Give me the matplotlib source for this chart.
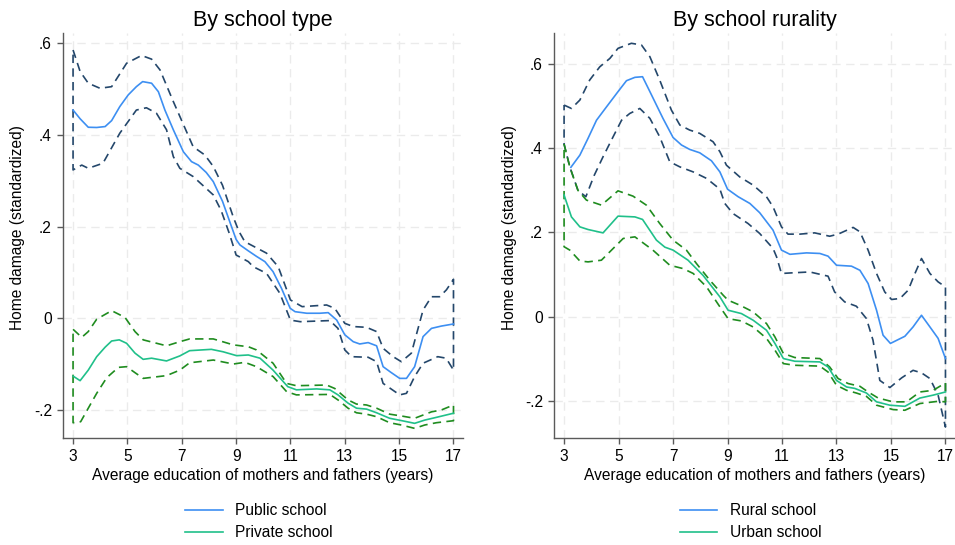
import matplotlib.pyplot as plt

plt.rcParams['font.family'] = ['Liberation Sans', 'DejaVu Sans']

# --- by school type ---------------------------------------------------------
public_x = [3.0, 3.26, 3.56, 3.87, 4.18, 4.42, 4.72, 5.03, 5.33, 5.56, 5.89, 6.14,
            6.38, 6.69, 7.06, 7.36, 7.61, 7.9, 8.16, 8.5, 8.8, 9.0, 9.14, 9.45,
            9.75, 10.06, 10.36, 10.67, 10.99, 11.17, 11.6, 12.08, 12.39, 12.7, 13.0,
            13.31, 13.55, 13.86, 14.17, 14.41, 14.7, 15.02, 15.27, 15.57, 15.88,
            16.19, 16.55, 17.0]
public_y = [0.454, 0.435, 0.4165, 0.416, 0.418, 0.431, 0.4615, 0.487, 0.505, 0.516,
            0.5125, 0.494, 0.454, 0.411, 0.363, 0.3415, 0.334, 0.318, 0.298, 0.255,
            0.205, 0.172, 0.16, 0.147, 0.135, 0.1235, 0.1017, 0.0654, 0.0218, 0.0144,
            0.011, 0.011, 0.0123, -0.0037, -0.036, -0.051, -0.056, -0.053, -0.060,
            -0.1055, -0.118, -0.131, -0.131, -0.1055, -0.04, -0.022, -0.017, -0.0124]
public_hi_x = [3.0, 3.26, 3.56, 3.99, 4.42, 4.97, 5.52, 5.89, 6.2, 6.69, 7.42, 7.85,
               8.16, 8.5, 8.9, 9.1, 9.32, 10.12, 10.55, 11.0, 11.43, 12.33, 12.63,
               13.0, 13.31, 13.8, 14.17, 14.41, 14.78, 15.08, 15.45, 15.88, 16.19,
               16.49, 16.74, 17.0]
public_hi_y = [0.585, 0.538, 0.5125, 0.5015, 0.505, 0.556, 0.573, 0.565, 0.5415,
               0.4725, 0.374, 0.356, 0.331, 0.29, 0.22, 0.19, 0.167, 0.142, 0.1125,
               0.040, 0.0254, 0.029, 0.0218, -0.011, -0.018, -0.0197, -0.029,
               -0.0655, -0.0837, -0.0946, -0.076, 0.018, 0.047, 0.047, 0.062, 0.085]
public_lo_x = [3.0, 3.32, 3.56, 4.1, 4.72, 5.33, 5.7, 6.07, 6.44, 6.69, 6.93, 7.42,
               8.16, 8.45, 8.75, 9.0, 9.45, 9.63, 10.12, 10.61, 11.0, 11.36, 12.45,
               12.75, 13.0, 13.25, 13.86, 14.17, 14.41, 15.02, 15.27, 15.57, 15.88,
               16.42, 16.73, 17.0]
public_lo_y = [0.3235, 0.334, 0.327, 0.338, 0.4035, 0.454, 0.459, 0.447, 0.411,
               0.3525, 0.327, 0.309, 0.269, 0.235, 0.185, 0.138, 0.1235, 0.1125,
               0.098, 0.0545, -0.004, -0.0074, -0.005, -0.022, -0.069, -0.0837,
               -0.085, -0.0946, -0.142, -0.167, -0.1636, -0.127, -0.098, -0.0837,
               -0.087, -0.113]

private_x = [3.0, 3.26, 3.56, 3.87, 4.18, 4.42, 4.7, 4.97, 5.28, 5.58, 5.89, 6.44,
             6.93, 7.29, 8.09, 8.52, 9.02, 9.45, 9.88, 10.36, 10.9, 11.22, 11.96,
             12.45, 12.75, 13.12, 13.43, 13.8, 14.17, 14.65, 15.08, 15.57, 15.94,
             16.37, 17.0]
private_y = [-0.126, -0.136, -0.113, -0.0837, -0.063, -0.0495, -0.047, -0.0545,
             -0.076, -0.0895, -0.087, -0.093, -0.082, -0.0706, -0.0677, -0.073,
             -0.0815, -0.080, -0.087, -0.113, -0.149, -0.156, -0.154, -0.156, -0.167,
             -0.185, -0.196, -0.198, -0.206, -0.218, -0.223, -0.229, -0.222, -0.216,
             -0.207]
private_hi_x = [3.0, 3.32, 3.56, 3.87, 4.42, 4.91, 5.28, 5.58, 6.44, 6.93, 7.29, 8.16,
                8.9, 9.45, 9.75, 10.36, 10.86, 11.22, 12.33, 12.63, 13.12, 13.43, 13.8,
                14.17, 14.65, 15.08, 15.57, 16.19, 16.55, 17.0]
private_hi_y = [-0.024, -0.0415, -0.029, -0.002, 0.0166, 0.002, -0.029, -0.047,
                -0.060, -0.051, -0.045, -0.045, -0.058, -0.062, -0.069, -0.098,
                -0.142, -0.147, -0.1455, -0.153, -0.178, -0.187, -0.189, -0.196,
                -0.209, -0.213, -0.218, -0.204, -0.200, -0.189]
private_lo_x = [3.0, 3.28, 3.56, 3.87, 4.24, 4.67, 4.97, 5.28, 5.58, 6.44, 6.93, 7.29,
                8.16, 8.9, 9.32, 9.75, 10.36, 10.86, 11.22, 12.45, 12.75, 13.12, 13.43,
                13.8, 14.17, 14.65, 15.08, 15.57, 15.94, 16.37, 17.0]
private_lo_y = [-0.2277, -0.2255, -0.196, -0.1636, -0.1295, -0.107, -0.1055, -0.1186,
                -0.131, -0.125, -0.113, -0.097, -0.091, -0.0997, -0.096, -0.1055,
                -0.127, -0.160, -0.167, -0.166, -0.178, -0.196, -0.206, -0.209,
                -0.2146, -0.2277, -0.2327, -0.240, -0.2327, -0.2277, -0.2233]

# --- by school rurality -----------------------------------------------------
rural_x = [3.25, 3.58, 3.88, 4.19, 4.56, 4.98, 5.29, 5.6, 5.88, 6.15, 6.63, 7.0,
           7.31, 7.61, 7.98, 8.41, 8.72, 9.0, 9.39, 9.82, 10.18, 10.67, 10.98, 11.29,
           11.9, 12.39, 12.69, 13.0, 13.55, 13.86, 14.16, 14.47, 14.71, 14.98, 15.51,
           15.81, 16.12, 16.43, 16.73, 17.0]
rural_y = [0.355, 0.384, 0.424, 0.467, 0.499, 0.535, 0.561, 0.569, 0.5705, 0.535,
           0.4714, 0.426, 0.408, 0.3976, 0.3895, 0.3705, 0.344, 0.303, 0.285, 0.269,
           0.247, 0.2055, 0.158, 0.148, 0.1514, 0.150, 0.1436, 0.122, 0.1198, 0.110,
           0.0786, 0.015, -0.0445, -0.064, -0.047, -0.0248, 0.003, -0.0248, -0.052,
           -0.100]
rural_hi_x = [3.0, 3.27, 3.58, 3.94, 4.31, 4.68, 4.98, 5.47, 5.84, 6.15, 6.51, 6.94,
              7.25, 7.61, 7.98, 8.47, 8.72, 8.96, 9.45, 9.94, 10.43, 10.67, 10.98,
              11.22, 11.65, 12.2, 12.75, 13.06, 13.61, 13.86, 14.16, 14.47, 14.77,
              15.02, 15.33, 15.63, 15.88, 16.12, 16.43, 16.73, 17.0]
rural_hi_y = [0.503, 0.495, 0.515, 0.5626, 0.594, 0.614, 0.638, 0.650, 0.646, 0.618,
              0.5626, 0.491, 0.4555, 0.4436, 0.4357, 0.4157, 0.392, 0.360, 0.332,
              0.3126, 0.285, 0.261, 0.2133, 0.196, 0.196, 0.199, 0.191, 0.196, 0.212,
              0.2015, 0.158, 0.1024, 0.0586, 0.0405, 0.0429, 0.0626, 0.1024, 0.138,
              0.1024, 0.0824, 0.0705]
rural_lo_x = [3.0, 3.21, 3.51, 3.8, 4.1, 4.43, 4.8, 5.11, 5.41, 5.78, 6.15, 6.51,
              6.88, 7.25, 7.74, 8.23, 8.72, 8.9, 9.2, 9.75, 10.18, 10.67, 10.8, 10.98,
              11.4, 12.02, 12.69, 12.93, 13.3, 13.73, 14.1, 14.34, 14.59, 14.96, 15.39,
              15.81, 16.12, 16.43, 16.73, 17.0]
rural_lo_y = [0.41, 0.356, 0.30, 0.285, 0.335, 0.38, 0.4276, 0.467, 0.483, 0.495,
              0.4714, 0.4276, 0.368, 0.356, 0.344, 0.3286, 0.303, 0.269, 0.245,
              0.2214, 0.1976, 0.162, 0.142, 0.1024, 0.104, 0.106, 0.096, 0.0586,
              0.0348, 0.0245, -0.005, -0.0564, -0.152, -0.169, -0.146, -0.128, -0.134,
              -0.1476, -0.187, -0.263]

urban_x = [3.0, 3.27, 3.58, 3.88, 4.43, 4.98, 5.6, 5.88, 6.39, 6.7, 7.0, 7.55, 8.1,
           8.72, 9.02, 9.51, 9.94, 10.43, 10.74, 11.05, 11.47, 12.39, 12.69, 13.0,
           13.37, 13.67, 14.1, 14.47, 14.96, 15.51, 16.06, 16.55, 17.0]
urban_y = [0.289, 0.237, 0.2133, 0.207, 0.199, 0.2388, 0.237, 0.231, 0.1817, 0.165,
           0.158, 0.134, 0.098, 0.0467, 0.015, 0.007, -0.0088, -0.0326, -0.064, -0.100,
           -0.1064, -0.108, -0.120, -0.152, -0.1676, -0.171, -0.182, -0.203, -0.211,
           -0.2136, -0.194, -0.187, -0.1795]
urban_hi_x = [3.0, 3.21, 3.51, 3.82, 4.37, 4.98, 5.53, 6.02, 6.51, 7.0, 7.49, 7.86,
              8.35, 8.84, 9.02, 9.45, 9.94, 10.43, 10.74, 11.05, 11.47, 12.39, 12.75,
              13.06, 13.43, 13.86, 14.16, 14.53, 15.08, 15.57, 16.06, 16.55, 17.0]
urban_hi_y = [0.410, 0.356, 0.30, 0.277, 0.265, 0.299, 0.2864, 0.265, 0.2214, 0.1817,
              0.158, 0.126, 0.0864, 0.0507, 0.0388, 0.027, 0.011, -0.0167, -0.0486,
              -0.088, -0.0976, -0.100, -0.12, -0.1476, -0.1595, -0.166, -0.1795,
              -0.194, -0.203, -0.203, -0.1795, -0.1755, -0.158]
urban_lo_x = [3.0, 3.21, 3.58, 3.88, 4.37, 4.68, 5.17, 5.6, 6.26, 6.88, 7.37, 7.74,
              8.23, 8.72, 9.02, 9.51, 9.94, 10.43, 10.74, 11.05, 11.47, 12.39, 12.69,
              13.0, 13.37, 13.73, 14.1, 14.47, 15.08, 15.51, 16.06, 16.73, 17.0]
urban_lo_y = [0.166, 0.158, 0.132, 0.130, 0.134, 0.154, 0.1857, 0.1895, 0.158, 0.122,
              0.114, 0.1024, 0.0705, 0.023, -0.005, -0.0105, -0.0248, -0.052, -0.080,
              -0.112, -0.116, -0.118, -0.132, -0.1636, -0.1755, -0.182, -0.19, -0.211,
              -0.2214, -0.223, -0.207, -0.2017, -0.203]

x_ticks = [3, 5, 7, 9, 11, 13, 15, 17]
y_ticks = [-0.2, 0, 0.2, 0.4, 0.6]
y_tick_labels = ['-.2', '0', '.2', '.4', '.6']

blue = '#3d8ff2'
green = '#20c08a'
navy = '#24476b'
dkgreen = '#1f8c1f'
dash = (0, (5, 3.2))


def band(ax, xh, yh, xl, yl, color):
    # CI drawn as one closed dashed outline, like Stata does
    px = xh + xl[::-1] + xh[:1]
    py = yh + yl[::-1] + yh[:1]
    ax.plot(px, py, color=color, lw=1.2, ls=dash)


def style(ax, title, ylim, ylab_x):
    ax.set_xlim(2.63, 17.35)
    ax.set_ylim(*ylim)
    ax.set_xticks(x_ticks)
    ax.set_yticks(y_ticks)
    ax.set_yticklabels(y_tick_labels)
    ax.grid(True, color='#ebebeb', lw=1.0, ls=(0, (6, 4)))
    ax.set_axisbelow(True)
    for s in ['top', 'right']:
        ax.spines[s].set_visible(False)
    for s in ['left', 'bottom']:
        ax.spines[s].set_color('#5a5a5a')
        ax.spines[s].set_linewidth(1.0)
    ax.tick_params(length=4, width=1.0, color='#5a5a5a', labelsize=11.2, pad=4)
    ax.set_title(title, fontsize=15.5, pad=5)
    ax.set_xlabel('Average education of mothers and fathers (years)', fontsize=11.2,
                  labelpad=3)
    ax.set_ylabel('Home damage (standardized)', fontsize=11.2)
    ax.yaxis.set_label_coords(ylab_x, 0.52)


fig = plt.figure(figsize=(9.55, 5.45), dpi=100)
ax1 = fig.add_axes([63 / 955, 107 / 545, 400 / 955, 405 / 545])
ax2 = fig.add_axes([554 / 955, 107 / 545, 401 / 955, 405 / 545])

band(ax1, public_hi_x, public_hi_y, public_lo_x, public_lo_y, navy)
band(ax1, private_hi_x, private_hi_y, private_lo_x, private_lo_y, dkgreen)
ax1.plot(public_x, public_y, color=blue, lw=1.2, label='Public school')
ax1.plot(private_x, private_y, color=green, lw=1.2, label='Private school')
style(ax1, 'By school type', (-0.261, 0.622), -0.095)

band(ax2, rural_hi_x, rural_hi_y, rural_lo_x, rural_lo_y, navy)
band(ax2, urban_hi_x, urban_hi_y, urban_lo_x, urban_lo_y, dkgreen)
ax2.plot(rural_x, rural_y, color=blue, lw=1.2, label='Rural school')
ax2.plot(urban_x, urban_y, color=green, lw=1.2, label='Urban school')
style(ax2, 'By school rurality', (-0.289, 0.6745), -0.092)

for ax in (ax1, ax2):
    ax.legend(loc='center', bbox_to_anchor=(0.49, -0.207), frameon=False,
              fontsize=11.2, handlelength=2.4, handletextpad=0.8,
              labelspacing=0.45)

plt.savefig('out.png', dpi=100)
plt.close()
